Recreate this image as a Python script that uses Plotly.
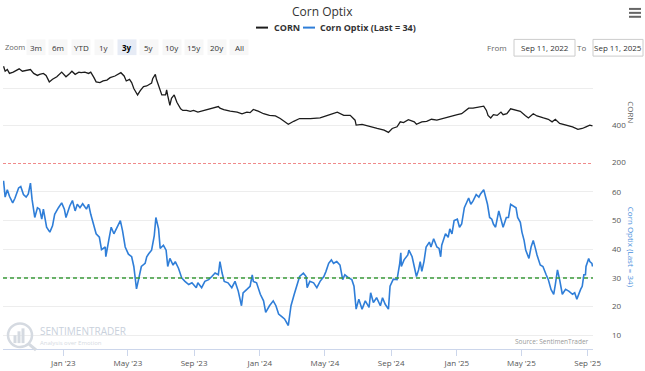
import plotly.graph_objects as go

# ---------------- data ----------------
corn_dates = [
    "2022-09-12", "2022-09-15", "2022-09-19", "2022-09-23", "2022-09-30", "2022-10-06", "2022-10-11",
    "2022-10-17", "2022-10-25", "2022-11-01", "2022-11-07", "2022-11-14", "2022-11-18", "2022-11-25",
    "2022-11-30", "2022-12-06", "2022-12-12", "2022-12-20", "2022-12-29", "2023-01-04", "2023-01-06",
    "2023-01-13", "2023-01-17", "2023-01-23", "2023-01-30", "2023-02-03", "2023-02-10", "2023-02-17",
    "2023-02-21", "2023-02-27", "2023-03-03", "2023-03-10", "2023-03-16", "2023-03-23", "2023-03-29",
    "2023-04-07", "2023-04-13", "2023-04-18", "2023-04-24", "2023-04-28", "2023-05-04", "2023-05-08",
    "2023-05-12", "2023-05-19", "2023-05-24", "2023-05-30", "2023-06-05", "2023-06-14", "2023-06-16",
    "2023-06-21", "2023-06-23", "2023-06-29", "2023-07-03", "2023-07-10", "2023-07-12", "2023-07-14",
    "2023-07-18", "2023-07-21", "2023-07-26", "2023-07-31", "2023-08-07", "2023-08-11", "2023-08-18",
    "2023-08-25", "2023-08-31", "2023-09-08", "2023-09-18", "2023-09-28", "2023-10-06", "2023-10-16",
    "2023-10-19", "2023-10-26", "2023-11-07", "2023-11-20", "2023-11-29", "2023-12-08", "2023-12-14",
    "2023-12-20", "2023-12-29", "2024-01-08", "2024-01-19", "2024-01-30", "2024-02-08", "2024-02-16",
    "2024-02-23", "2024-03-04", "2024-03-15", "2024-04-04", "2024-04-22", "2024-05-06", "2024-05-17",
    "2024-05-24", "2024-06-05", "2024-06-17", "2024-06-26", "2024-06-28", "2024-07-09", "2024-07-18",
    "2024-07-24", "2024-08-06", "2024-08-19", "2024-08-27", "2024-09-03", "2024-09-12", "2024-09-18",
    "2024-09-24", "2024-10-03", "2024-10-14", "2024-10-18", "2024-10-28", "2024-11-06", "2024-11-15",
    "2024-11-25", "2024-12-06", "2024-12-20", "2025-01-02", "2025-01-10", "2025-01-17", "2025-01-23",
    "2025-01-31", "2025-02-10", "2025-02-20", "2025-02-25", "2025-02-28", "2025-03-05", "2025-03-10",
    "2025-03-17", "2025-03-24", "2025-03-28", "2025-04-04", "2025-04-11", "2025-04-21", "2025-04-29",
    "2025-05-08", "2025-05-14", "2025-05-23", "2025-05-30", "2025-06-11", "2025-06-20", "2025-06-27",
    "2025-07-03", "2025-07-11", "2025-07-25", "2025-08-04", "2025-08-14", "2025-08-22", "2025-08-29",
    "2025-09-05", "2025-09-10",
]
corn_values = [
    720, 693, 702, 681, 688, 699, 706,
    693, 699, 702, 681, 670, 676, 681,
    670, 635, 649, 663, 688, 667, 663,
    681, 693, 676, 688, 685, 688, 681,
    688, 658, 635, 631, 640, 645, 658,
    667, 676, 685, 667, 640, 649, 631,
    599, 564, 587, 610, 613, 628, 652,
    676, 649, 592, 564, 564, 592, 560,
    507, 546, 564, 524, 489, 480, 480,
    475, 480, 471, 480, 489, 494, 501,
    492, 484, 476, 471, 462, 471, 468,
    485, 476, 462, 453, 450, 436, 421,
    405, 421, 436, 436, 439, 453, 462,
    471, 453, 453, 427, 400, 404, 396,
    391, 382, 373, 361, 382, 391, 418,
    414, 430, 418, 405, 418, 421, 432,
    427, 436, 450, 457, 462, 480, 492,
    492, 498, 503, 480, 453, 439, 457,
    453, 471, 457, 462, 489, 480, 475,
    453, 439, 462, 450, 439, 432, 418,
    432, 409, 400, 391, 377, 382, 391,
    400, 396,
]

optix_dates = [
    "2022-09-12", "2022-09-15", "2022-09-19", "2022-09-23", "2022-09-29", "2022-10-03", "2022-10-10",
    "2022-10-14", "2022-10-19", "2022-10-24", "2022-10-28", "2022-11-01", "2022-11-04", "2022-11-09",
    "2022-11-14", "2022-11-18", "2022-11-22", "2022-11-25", "2022-12-01", "2022-12-07", "2022-12-12",
    "2022-12-16", "2022-12-23", "2022-12-29", "2023-01-03", "2023-01-06", "2023-01-13", "2023-01-18",
    "2023-01-23", "2023-01-27", "2023-02-01", "2023-02-06", "2023-02-13", "2023-02-17", "2023-02-21",
    "2023-02-27", "2023-03-03", "2023-03-09", "2023-03-13", "2023-03-20", "2023-03-21", "2023-03-27",
    "2023-03-31", "2023-04-05", "2023-04-10", "2023-04-17", "2023-04-21", "2023-04-26", "2023-05-02",
    "2023-05-08", "2023-05-12", "2023-05-17", "2023-05-22", "2023-05-26", "2023-06-02", "2023-06-05",
    "2023-06-09", "2023-06-14", "2023-06-19", "2023-06-22", "2023-06-27", "2023-06-30", "2023-07-06",
    "2023-07-11", "2023-07-14", "2023-07-18", "2023-07-24", "2023-07-28", "2023-08-03", "2023-08-09",
    "2023-08-15", "2023-08-22", "2023-08-28", "2023-09-05", "2023-09-08", "2023-09-15", "2023-09-21",
    "2023-09-28", "2023-10-04", "2023-10-10", "2023-10-16", "2023-10-19", "2023-10-23", "2023-10-27",
    "2023-11-03", "2023-11-10", "2023-11-16", "2023-11-22", "2023-11-28", "2023-12-01", "2023-12-08",
    "2023-12-14", "2023-12-18", "2023-12-20", "2023-12-26", "2024-01-02", "2024-01-08", "2024-01-12",
    "2024-01-19", "2024-01-26", "2024-01-31", "2024-02-05", "2024-02-12", "2024-02-16", "2024-02-23",
    "2024-02-28", "2024-03-05", "2024-03-11", "2024-03-15", "2024-03-22", "2024-03-27", "2024-03-29",
    "2024-04-03", "2024-04-10", "2024-04-16", "2024-04-22", "2024-04-29", "2024-05-03", "2024-05-08",
    "2024-05-13", "2024-05-17", "2024-05-23", "2024-05-29", "2024-06-03", "2024-06-07", "2024-06-14",
    "2024-06-20", "2024-06-24", "2024-06-26", "2024-06-28", "2024-07-03", "2024-07-09", "2024-07-15",
    "2024-07-22", "2024-07-25", "2024-07-30", "2024-08-05", "2024-08-12", "2024-08-16", "2024-08-21",
    "2024-08-27", "2024-08-30", "2024-09-05", "2024-09-12", "2024-09-17", "2024-09-19", "2024-09-20",
    "2024-09-25", "2024-10-02", "2024-10-04", "2024-10-10", "2024-10-14", "2024-10-18", "2024-10-22",
    "2024-10-25", "2024-10-28", "2024-11-01", "2024-11-05", "2024-11-11", "2024-11-14", "2024-11-19",
    "2024-11-25", "2024-11-29", "2024-12-02", "2024-12-04", "2024-12-11", "2024-12-16", "2024-12-19",
    "2024-12-23", "2024-12-27", "2025-01-02", "2025-01-06", "2025-01-10", "2025-01-15", "2025-01-21",
    "2025-01-23", "2025-01-27", "2025-01-31", "2025-02-06", "2025-02-11", "2025-02-14", "2025-02-20",
    "2025-02-24", "2025-02-27", "2025-03-03", "2025-03-07", "2025-03-10", "2025-03-14", "2025-03-20",
    "2025-03-24", "2025-03-28", "2025-04-03", "2025-04-07", "2025-04-11", "2025-04-15", "2025-04-21",
    "2025-04-24", "2025-04-29", "2025-05-02", "2025-05-06", "2025-05-09", "2025-05-15", "2025-05-19",
    "2025-05-23", "2025-05-27", "2025-05-30", "2025-06-05", "2025-06-10", "2025-06-16", "2025-06-20",
    "2025-06-25", "2025-06-30", "2025-07-03", "2025-07-07", "2025-07-11", "2025-07-16", "2025-07-22",
    "2025-07-28", "2025-08-04", "2025-08-08", "2025-08-12", "2025-08-15", "2025-08-19", "2025-08-22",
    "2025-08-25", "2025-08-28", "2025-08-29", "2025-09-03", "2025-09-05", "2025-09-09", "2025-09-10",
]
optix_values = [
    63.9, 58.2, 60.8, 58.5, 56.2, 57.7, 61.4,
    61.9, 59.1, 58.2, 59.3, 63.1, 57.4, 51.1,
    54.5, 54.0, 50.5, 54.0, 47.7, 46.0, 48.2,
    52.2, 54.5, 56.2, 54.0, 51.1, 55.1, 57.0,
    53.4, 55.7, 54.5, 55.9, 54.0, 55.7, 52.2,
    47.7, 45.4, 44.2, 39.9, 40.8, 37.4, 43.7,
    47.7, 45.4, 47.1, 50.0, 46.5, 40.8, 38.3,
    37.4, 34.0, 26.2, 30.5, 34.0, 35.1, 37.4,
    38.5, 39.7, 44.8, 51.1, 47.1, 40.3, 41.4,
    39.7, 34.0, 36.8, 34.5, 35.7, 33.4, 30.0,
    28.8, 27.7, 28.3, 26.6, 28.3, 26.6, 28.8,
    29.4, 30.5, 31.7, 31.1, 35.7, 31.7, 28.8,
    28.3, 26.6, 28.8, 25.4, 20.3, 24.8, 26.0,
    27.1, 31.1, 28.8, 28.3, 24.3, 22.0, 18.0,
    20.3, 22.0, 20.3, 17.4, 16.3, 15.7, 13.4,
    20.3, 24.3, 27.7, 30.5, 31.7, 30.5, 26.6,
    28.8, 28.3, 26.6, 28.8, 30.5, 32.3, 35.1,
    36.3, 35.1, 35.7, 34.5, 29.4, 31.1, 30.0,
    29.4, 27.1, 23.7, 19.1, 22.6, 19.1, 22.0,
    19.7, 24.8, 21.4, 23.1, 20.3, 23.1, 20.8,
    19.1, 27.1, 29.6, 29.4, 35.1, 38.8, 34.0,
    36.3, 38.0, 39.7, 37.4, 34.0, 30.5, 32.8,
    35.7, 32.3, 35.7, 40.8, 42.5, 40.8, 43.7,
    40.8, 40.3, 37.4, 41.4, 45.4, 44.2, 47.1,
    45.4, 50.0, 50.5, 47.7, 48.8, 54.5, 56.8,
    57.9, 55.7, 56.8, 59.1, 58.2, 59.3, 60.8,
    57.9, 55.7, 51.1, 50.5, 48.8, 47.7, 53.4,
    50.0, 47.7, 51.1, 51.1, 55.7, 55.1, 54.5,
    51.1, 49.4, 46.0, 43.1, 39.7, 36.8, 40.8,
    43.1, 40.3, 38.0, 34.5, 34.0, 31.1, 29.4,
    26.0, 24.3, 27.7, 32.8, 29.4, 24.3, 26.0,
    25.4, 24.3, 24.8, 22.6, 24.3, 26.0, 27.1,
    31.1, 31.1, 34.0, 36.8, 35.7, 35.1, 34.0,
]

optix_upper_threshold = 70   # red dashed
optix_lower_threshold = 30   # green dashed

x_tick_dates = ["2023-01-01", "2023-05-01", "2023-09-01", "2024-01-01", "2024-05-01",
                "2024-09-01", "2025-01-01", "2025-05-01", "2025-09-01"]
x_tick_labels = ["Jan '23", "May '23", "Sep '23", "Jan '24", "May '24",
                 "Sep '24", "Jan '25", "May '25", "Sep '25"]
corn_ticks = [200, 400, 600]
corn_tick_labels = ["200", "400", ""]
optix_ticks = [10, 20, 30, 40, 50, 60]

range_buttons = ["3m", "6m", "YTD", "1y", "3y", "5y", "10y", "15y", "20y", "All"]
selected_button = "3y"
date_from = "Sep 11, 2022"
date_to = "Sep 11, 2025"

# ---------------- layout helpers (pixel -> paper) ----------------
W, H = 645, 371
ML, MR, MT, MB = 3, 52, 62, 17
PW, PH = W - ML - MR, H - MT - MB


def px(x):
    return (x - ML) / PW


def py(y):
    return (H - MB - y) / PH


FONT = "Open Sans, Arial, sans-serif"
GRID = "#ededed"
LABEL = "#555555"

fig = go.Figure()
fig.add_trace(go.Scatter(
    x=corn_dates, y=corn_values, xaxis="x", yaxis="y", mode="lines",
    line=dict(color="#1c1c1c", width=1.3), name="CORN", showlegend=False,
))
fig.add_trace(go.Scatter(
    x=optix_dates, y=optix_values, xaxis="x2", yaxis="y2", mode="lines",
    line=dict(color="#2f7ed8", width=1.6), name="Corn Optix (Last = 34)", showlegend=False,
))

x_range = ["2022-09-11", "2025-09-11"]

fig.update_layout(
    width=W, height=H,
    margin=dict(l=ML, r=MR, t=MT, b=MB),
    paper_bgcolor="white", plot_bgcolor="white",
    font=dict(family=FONT, size=9, color=LABEL),
    xaxis=dict(domain=[0, 1], anchor="y", range=x_range, matches="x2",
               showticklabels=False, showgrid=False, zeroline=False, showline=False, ticks=""),
    xaxis2=dict(domain=[0, 1], anchor="y2", range=x_range, showgrid=False, zeroline=False,
                showline=True, linecolor="#ccd6eb", linewidth=1,
                ticks="outside", ticklen=6, tickcolor="#ccd6eb", tickwidth=1,
                tickvals=x_tick_dates, ticktext=x_tick_labels,
                tickfont=dict(size=8, color=LABEL, family=FONT)),
    yaxis=dict(domain=[0.651, 1], anchor="x", side="right", range=[199, 743],
               tickvals=corn_ticks, ticktext=corn_tick_labels,
               showgrid=True, gridcolor=GRID, gridwidth=1, zeroline=False, showline=False,
               ticks="", ticklabelstandoff=18,
               tickfont=dict(size=8, color=LABEL, family=FONT)),
    yaxis2=dict(domain=[0, 0.648], anchor="x2", side="right", range=[5.2, 70.1],
                tickvals=optix_ticks,
                showgrid=True, gridcolor=GRID, gridwidth=1, zeroline=False, showline=False,
                ticks="", ticklabelstandoff=18,
                tickfont=dict(size=8, color=LABEL, family=FONT)),
)

shapes = []
annotations = []

# threshold lines
shapes.append(dict(type="line", xref="x2 domain", yref="y2", x0=0, x1=1,
                   y0=optix_upper_threshold, y1=optix_upper_threshold,
                   line=dict(color="#f08a8a", width=1.3, dash="3px,2px")))
shapes.append(dict(type="line", xref="x2 domain", yref="y2", x0=0, x1=1,
                   y0=optix_lower_threshold, y1=optix_lower_threshold,
                   line=dict(color="#3a9a3a", width=1.4, dash="4px,3px")))

# title
annotations.append(dict(text="Corn Optix", xref="paper", yref="paper", x=px(322), y=py(11),
                        showarrow=False, xanchor="center", yanchor="middle",
                        font=dict(size=12, color="#333333", family=FONT)))

# legend (manual)
shapes.append(dict(type="line", xref="paper", yref="paper", x0=px(256), x1=px(268),
                   y0=py(27), y1=py(27), line=dict(color="#1c1c1c", width=2)))
annotations.append(dict(text="<b>CORN</b>", xref="paper", yref="paper", x=px(272), y=py(27),
                        showarrow=False, xanchor="left", yanchor="middle",
                        font=dict(size=9, color="#333333", family=FONT)))
shapes.append(dict(type="line", xref="paper", yref="paper", x0=px(303), x1=px(315),
                   y0=py(27), y1=py(27), line=dict(color="#2f7ed8", width=2)))
annotations.append(dict(text="<b>Corn Optix (Last = 34)</b>", xref="paper", yref="paper",
                        x=px(318), y=py(27), showarrow=False, xanchor="left", yanchor="middle",
                        font=dict(size=9, color="#333333", family=FONT)))

# range selector
annotations.append(dict(text="Zoom", xref="paper", yref="paper", x=px(3), y=py(47),
                        showarrow=False, xanchor="left", yanchor="middle",
                        font=dict(size=7.5, color="#666666", family=FONT)))
btn_centers = [36, 58, 81, 104, 127, 149, 172, 194, 217, 239]
for label, cx in zip(range_buttons, btn_centers):
    sel = label == selected_button
    shapes.append(dict(type="rect", xref="paper", yref="paper",
                       x0=px(cx - 9.5), x1=px(cx + 9.5), y0=py(55), y1=py(39),
                       fillcolor="#e6ebf5" if sel else "#f7f7f7", line=dict(width=0), layer="below"))
    annotations.append(dict(text=f"<b>{label}</b>" if sel else label, xref="paper", yref="paper",
                            x=px(cx), y=py(47), showarrow=False, xanchor="center", yanchor="middle",
                            font=dict(size=8, color="#000000" if sel else "#333333", family=FONT)))

annotations.append(dict(text="From", xref="paper", yref="paper", x=px(509), y=py(47),
                        showarrow=False, xanchor="right", yanchor="middle",
                        font=dict(size=8, color="#666666", family=FONT)))
shapes.append(dict(type="rect", xref="paper", yref="paper", x0=px(514), x1=px(575),
                   y0=py(56), y1=py(39), fillcolor="white", line=dict(color="#cccccc", width=1)))
annotations.append(dict(text=date_from, xref="paper", yref="paper", x=px(544.5), y=py(47.5),
                        showarrow=False, xanchor="center", yanchor="middle",
                        font=dict(size=8, color="#333333", family=FONT)))
annotations.append(dict(text="To", xref="paper", yref="paper", x=px(588), y=py(47),
                        showarrow=False, xanchor="right", yanchor="middle",
                        font=dict(size=8, color="#666666", family=FONT)))
shapes.append(dict(type="rect", xref="paper", yref="paper", x0=px(593), x1=px(643),
                   y0=py(56), y1=py(39), fillcolor="white", line=dict(color="#cccccc", width=1)))
annotations.append(dict(text=date_to, xref="paper", yref="paper", x=px(618), y=py(47.5),
                        showarrow=False, xanchor="center", yanchor="middle",
                        font=dict(size=8, color="#333333", family=FONT)))

# hamburger menu
for yy in (8, 12, 16):
    shapes.append(dict(type="line", xref="paper", yref="paper", x0=px(629), x1=px(641),
                       y0=py(yy), y1=py(yy), line=dict(color="#666666", width=2)))

# axis titles (rotated, reading top-to-bottom)
annotations.append(dict(text="CORN", xref="paper", yref="paper", x=px(632), y=py(113),
                        showarrow=False, xanchor="center", yanchor="middle", textangle=90,
                        font=dict(size=8, color="#666666", family=FONT)))
annotations.append(dict(text="Corn Optix (Last = 34)", xref="paper", yref="paper",
                        x=px(631), y=py(250), showarrow=False, xanchor="center",
                        yanchor="middle", textangle=90,
                        font=dict(size=8, color="#4a8fdc", family=FONT)))

# source
annotations.append(dict(text="Source: SentimenTrader", xref="paper", yref="paper",
                        x=px(591), y=py(346), showarrow=False, xanchor="right", yanchor="middle",
                        font=dict(size=6.5, color="#999999", family=FONT)))

# watermark logo
shapes.append(dict(type="circle", xref="paper", yref="paper", x0=px(8), x1=px(32),
                   y0=py(352), y1=py(328), line=dict(color="#d5dae1", width=2.5)))
for bx, btop in ((15, 340), (19, 336), (23, 333)):
    shapes.append(dict(type="rect", xref="paper", yref="paper", x0=px(bx - 1.5), x1=px(bx + 1.5),
                       y0=py(348), y1=py(btop), fillcolor="#d5dae1", line=dict(width=0)))
shapes.append(dict(type="line", xref="paper", yref="paper", x0=px(29), x1=px(36),
                   y0=py(349), y1=py(355), line=dict(color="#d5dae1", width=3)))
annotations.append(dict(text="SENTIMENTRADER", xref="paper", yref="paper", x=px(38), y=py(336),
                        showarrow=False, xanchor="left", yanchor="middle",
                        font=dict(size=10, color="#c9d1dc", family=FONT)))
annotations.append(dict(text="Analysis over Emotion", xref="paper", yref="paper", x=px(38),
                        y=py(347.5), showarrow=False, xanchor="left", yanchor="middle",
                        font=dict(size=6, color="#d6dbe2", family=FONT)))

fig.update_layout(shapes=shapes, annotations=annotations)
fig.write_html("out.html", config={"displayModeBar": False},
               post_script="document.body.style.margin='0px';")
